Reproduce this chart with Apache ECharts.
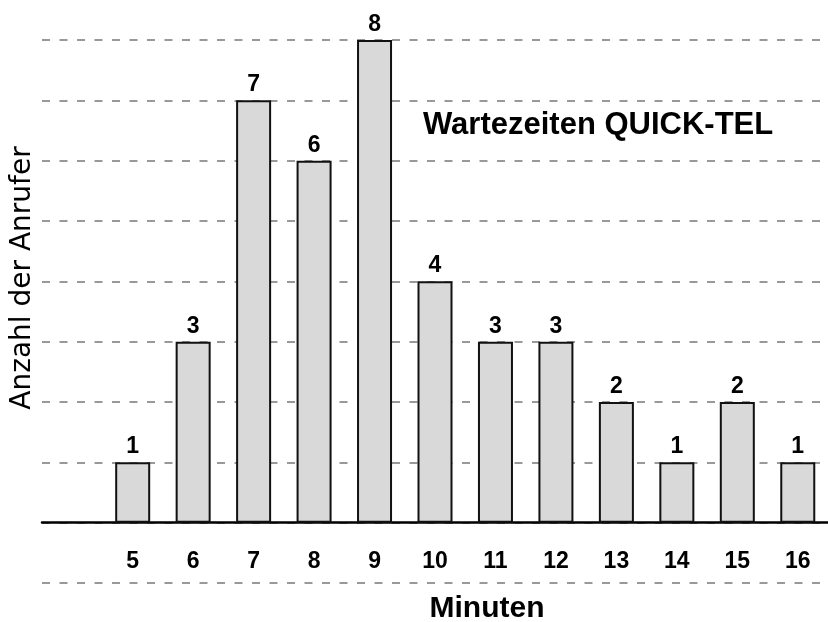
<!DOCTYPE html>
<html>
<head>
<meta charset="utf-8">
<script src="https://cdn.jsdelivr.net/npm/echarts@6/dist/echarts.min.js"></script>
<style>
  html, body { margin: 0; padding: 0; background: #fff; }
  #main { width: 828px; height: 622px; }
</style>
</head>
<body>
<div id="main"></div>
<script>
// Minuten (erste Spalte leer)
var minuten = ['', '5', '6', '7', '8', '9', '10', '11', '12', '13', '14', '15', '16'];
// Anzahl der Anrufer
var anrufer = ['-', 1, 3, 7, 6, 8, 4, 3, 3, 2, 1, 2, 1];

var myChart = echarts.init(document.getElementById('main'));
var option = {
    backgroundColor: '#fff',
    animation: false,
    grid: { left: 42, right: 0, top: 40, bottom: 39, outerBoundsMode: 'none', containLabel: false },
    xAxis: {
        type: 'category',
        data: minuten,
        axisLine: { onZero: true, lineStyle: { color: '#000', width: 2.5 } },
        axisTick: { show: false },
        axisLabel: {
            margin: -33,
            fontFamily: 'Liberation Sans',
            fontWeight: 'bold',
            fontSize: 23,
            color: '#000'
        }
    },
    yAxis: {
        type: 'value',
        min: -1,
        max: 8,
        interval: 1,
        axisLine: { show: false },
        axisTick: { show: false },
        axisLabel: { show: false },
        splitLine: {
            lineStyle: { color: '#999', width: 2, type: [8, 9.5] }
        }
    },
    series: [{
        type: 'bar',
        data: anrufer,
        barWidth: 35,
        itemStyle: { color: '#d9d9d9', borderColor: '#111', borderWidth: 2 },
        label: {
            show: true,
            position: 'top',
            distance: 4,
            fontFamily: 'Liberation Sans',
            fontWeight: 'bold',
            fontSize: 23,
            color: '#000'
        }
    }],
    graphic: [
        {
            type: 'text', x: 23, y: 278, rotation: Math.PI / 2,
            style: {
                text: 'Anzahl der Anrufer', fill: '#000',
                font: '28px "DejaVu Sans"', textAlign: 'center', textVerticalAlign: 'middle'
            }
        },
        {
            type: 'text', x: 423, y: 125,
            style: {
                text: 'Wartezeiten QUICK-TEL', fill: '#000',
                font: 'bold 31px "Liberation Sans"', textAlign: 'left', textVerticalAlign: 'middle'
            }
        },
        {
            type: 'text', x: 487, y: 609,
            style: {
                text: 'Minuten', fill: '#000',
                font: 'bold 30px "Liberation Sans"', textAlign: 'center', textVerticalAlign: 'middle'
            }
        }
    ]
};
myChart.setOption(option);
</script>
</body>
</html>
